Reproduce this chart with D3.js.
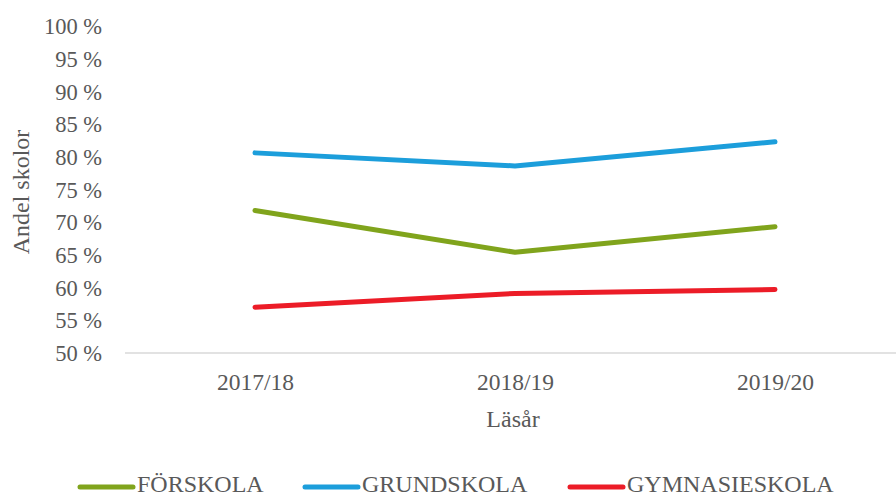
<!DOCTYPE html>
<html>
<head>
<meta charset="utf-8">
<script src="https://cdn.jsdelivr.net/npm/d3@7"></script>
<style>
  body { margin: 0; background: #fff; }
  text { font-family: "Liberation Serif", "Times New Roman", serif; fill: #595959; }
</style>
</head>
<body>
<div id="chart"></div>
<script>
var width = 896,
    height = 497;

// data
var years = ["2017/18", "2018/19", "2019/20"];
var forskola = [71.8, 65.4, 69.3];
var grundskola = [80.6, 78.6, 82.3];
var gymnasieskola = [57.0, 59.1, 59.7];
var yTicks = [50, 55, 60, 65, 70, 75, 80, 85, 90, 95, 100];

var series = [
  { name: "FÖRSKOLA", values: forskola, color: "#80a41c" },
  { name: "GRUNDSKOLA", values: grundskola, color: "#1c9edb" },
  { name: "GYMNASIESKOLA", values: gymnasieskola, color: "#ec1c27" }
];

var svg = d3.select("#chart")
  .append("svg")
  .attr("width", width)
  .attr("height", height);

var xScale = d3.scalePoint()
  .domain(years)
  .range([125, 905])
  .padding(0.5);

var yScale = d3.scaleLinear()
  .domain([50, 100])
  .range([353, 26]);

//Y tick labels, no axis line
var yAxis = d3.axisLeft(yScale)
  .tickValues(yTicks)
  .tickSize(0)
  .tickPadding(0)
  .tickFormat(function(d) { return d + " %"; });

var yG = svg.append("g")
  .attr("transform", "translate(102,0)")
  .call(yAxis);
yG.select(".domain").remove();
yG.selectAll("text")
  .attr("font-size", "22.5px")
  .attr("font-family", null)
  .attr("fill", null)
  .attr("dy", "0.34em");

//X axis: baseline line and labels
svg.append("line")
  .attr("x1", 125)
  .attr("x2", width)
  .attr("y1", yScale(50))
  .attr("y2", yScale(50))
  .attr("stroke", "#d9d9d9")
  .attr("stroke-width", 1.5);

var xAxis = d3.axisBottom(xScale)
  .tickSize(0)
  .tickPadding(0);

var xG = svg.append("g")
  .attr("transform", "translate(0,390)")
  .call(xAxis);
xG.select(".domain").remove();
xG.selectAll("text")
  .attr("font-size", "23.5px")
  .attr("font-family", null)
  .attr("fill", null)
  .attr("dy", 0);

//Axis titles
svg.append("text")
  .attr("x", 513)
  .attr("y", 427)
  .attr("text-anchor", "middle")
  .attr("font-size", "24px")
  .text("Läsår");

svg.append("text")
  .attr("transform", "translate(29,192) rotate(-90)")
  .attr("text-anchor", "middle")
  .attr("font-size", "24px")
  .text("Andel skolor");

//Lines
var line = d3.line()
  .x(function(d, i) { return xScale(years[i]); })
  .y(function(d) { return yScale(d); });

svg.selectAll(".series")
  .data(series)
  .enter()
  .append("path")
  .attr("class", "series")
  .attr("d", function(d) { return line(d.values); })
  .attr("fill", "none")
  .attr("stroke", function(d) { return d.color; })
  .attr("stroke-width", 5)
  .attr("stroke-linecap", "round")
  .attr("stroke-linejoin", "round");

//Legend
var legendX = [80, 305, 570];
var legend = svg.selectAll(".legend")
  .data(series)
  .enter()
  .append("g")
  .attr("class", "legend")
  .attr("transform", function(d, i) { return "translate(" + legendX[i] + ",487)"; });

legend.append("line")
  .attr("x1", 0)
  .attr("x2", 53)
  .attr("stroke", function(d) { return d.color; })
  .attr("stroke-width", 5)
  .attr("stroke-linecap", "round");

legend.append("text")
  .attr("x", 57)
  .attr("y", 5)
  .attr("font-size", "24px")
  .text(function(d) { return d.name; });
</script>
</body>
</html>
